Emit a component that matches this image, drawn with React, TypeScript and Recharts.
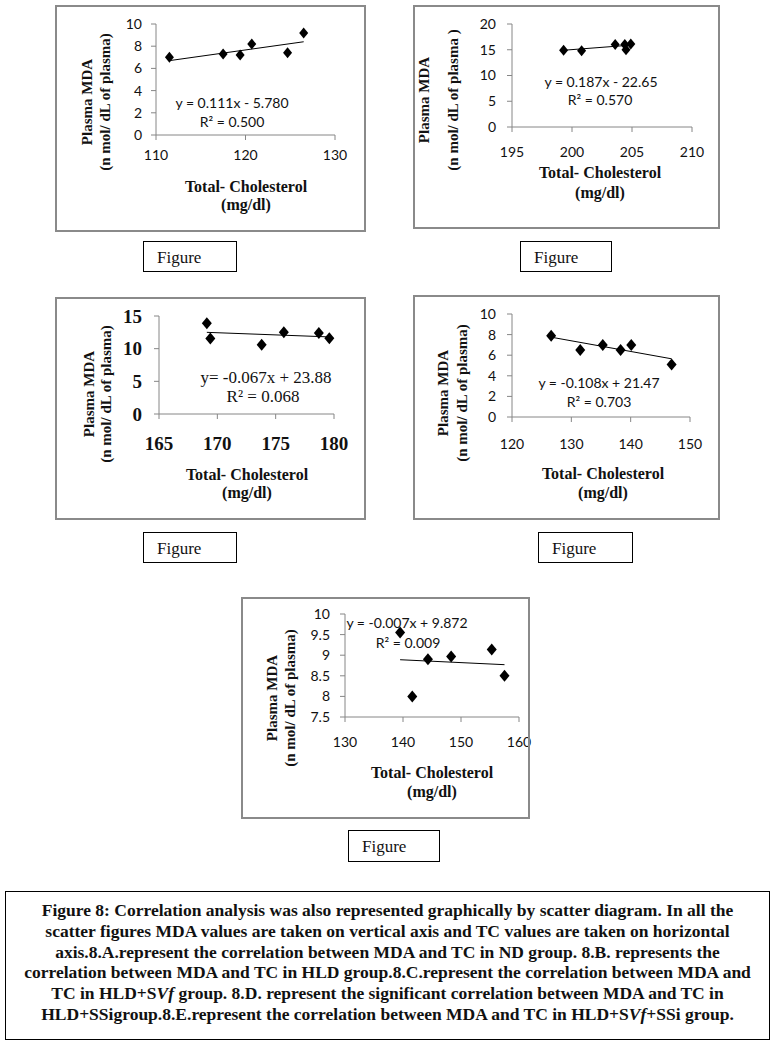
import React from "react";
import { ScatterChart, Scatter, XAxis, YAxis, ReferenceLine } from "recharts";

// 8.A  ND group
const aTc = [111.5, 117.5, 119.4, 120.7, 124.7, 126.5];
const aMda = [7.0, 7.3, 7.2, 8.2, 7.4, 9.2];
const aTrendTc = [111.5, 126.5];
const aTrendMda = [6.7, 8.4];
const aXTicks = [110, 120, 130];
const aYTicks = [0, 2, 4, 6, 8, 10];

// 8.B  HLD group
const bTc = [199.3, 200.8, 203.6, 204.4, 204.5, 204.9];
const bMda = [14.9, 14.8, 16.0, 16.0, 15.0, 16.1];
const bTrendTc = [199.3, 204.9];
const bTrendMda = [14.9, 15.9];
const bXTicks = [195, 200, 205, 210];
const bYTicks = [0, 5, 10, 15, 20];

// 8.C  HLD+SVf group
const cTc = [169.1, 169.4, 173.8, 175.7, 178.7, 179.6];
const cMda = [13.9, 11.55, 10.6, 12.5, 12.4, 11.6];
const cTrendTc = [169.1, 179.6];
const cTrendMda = [12.5, 11.8];
const cXTicks = [165, 170, 175, 180];
const cYTicks = [0, 5, 10, 15];

// 8.D  HLD+SSi group
const dTc = [126.6, 131.5, 135.3, 138.3, 140.1, 146.9];
const dMda = [7.9, 6.5, 7.0, 6.5, 7.0, 5.1];
const dTrendTc = [126.6, 146.9];
const dTrendMda = [7.75, 5.65];
const dXTicks = [120, 130, 140, 150];
const dYTicks = [0, 2, 4, 6, 8, 10];

// 8.E  HLD+SVf+SSi group
const eTc = [139.5, 141.6, 144.3, 148.3, 155.3, 157.5];
const eMda = [9.55, 8.0, 8.9, 8.97, 9.14, 8.5];
const eTrendTc = [139.5, 157.5];
const eTrendMda = [8.89, 8.77];
const eXTicks = [130, 140, 150, 160];
const eYTicks = [7.5, 8, 8.5, 9, 9.5, 10];

const SANS = "Lato, 'Liberation Sans', sans-serif";
const SERIF = "'Liberation Serif', 'Times New Roman', serif";
const AXIS_GREY = "#868686";

const captionLines = [
  "Figure 8: Correlation analysis was also represented graphically by scatter diagram. In all the",
  "scatter figures MDA values are taken on vertical axis and TC values are taken on horizontal",
  "axis.8.A.represent the correlation between MDA and TC in ND group. 8.B. represents the",
  "correlation between MDA and TC in HLD group.8.C.represent the correlation between MDA and",
];

const panels = [
  {
    id: "A",
    box: { l: 55, t: 5, r: 366, b: 232 },
    plot: { l: 156, t: 24, r: 335, b: 135 },
    tc: aTc, mda: aMda, trendTc: aTrendTc, trendMda: aTrendMda,
    xTicks: aXTicks, yTicks: aYTicks,
    tickFont: SANS, tickSize: 14, tickWeight: 400, xGap: 10, yGap: 9,
    eq: ["y = 0.111x - 5.780", "R² = 0.500"], eqFont: SANS, eqSize: 14,
    eqPos: [[232, 103], [232, 122]],
    yTitle: [[87, 102], [105, 102]], yTitle2: "(n mol/ dL of plasma)",
    xTitle: [[246, 187], [246, 205]],
    marker: [4.5, 5.5],
    figBox: { l: 143, t: 241, r: 237, b: 272 },
  },
  {
    id: "B",
    box: { l: 413, t: 5, r: 720, b: 229 },
    plot: { l: 512, t: 24, r: 692, b: 127 },
    tc: bTc, mda: bMda, trendTc: bTrendTc, trendMda: bTrendMda,
    xTicks: bXTicks, yTicks: bYTicks,
    tickFont: SANS, tickSize: 14, tickWeight: 400, xGap: 15, yGap: 11,
    eq: ["y = 0.187x - 22.65", "R² = 0.570"], eqFont: SANS, eqSize: 14,
    eqPos: [[601, 82], [600, 100]],
    yTitle: [[424, 100], [453, 100]], yTitle2: "(n mol/ dL of plasma )",
    xTitle: [[600, 173], [600, 193]],
    marker: [4.5, 5.5],
    figBox: { l: 520, t: 241, r: 612, b: 272 },
  },
  {
    id: "C",
    box: { l: 55, t: 297, r: 366, b: 520 },
    plot: { l: 159, t: 316, r: 334, b: 414 },
    tc: cTc, mda: cMda, trendTc: cTrendTc, trendMda: cTrendMda,
    xTicks: cXTicks, yTicks: cYTicks,
    tickFont: SERIF, tickSize: 19, tickWeight: 700, xGap: 18, yGap: 12,
    eq: ["y= -0.067x + 23.88", "R² = 0.068"], eqFont: SERIF, eqSize: 17,
    eqPos: [[266, 377], [263, 396]],
    yTitle: [[89, 394], [106, 394]], yTitle2: "(n mol/ dL of plasma)",
    xTitle: [[247, 475], [247, 493]],
    marker: [5, 6],
    figBox: { l: 143, t: 532, r: 237, b: 563 },
  },
  {
    id: "D",
    box: { l: 413, t: 295, r: 720, b: 520 },
    plot: { l: 512, t: 314, r: 690, b: 417 },
    tc: dTc, mda: dMda, trendTc: dTrendTc, trendMda: dTrendMda,
    xTicks: dXTicks, yTicks: dYTicks,
    tickFont: SANS, tickSize: 14, tickWeight: 400, xGap: 17, yGap: 11,
    eq: ["y = -0.108x + 21.47", "R² = 0.703"], eqFont: SANS, eqSize: 14,
    eqPos: [[599, 383], [599, 402]],
    yTitle: [[443, 393], [462, 393]], yTitle2: "(n mol/ dL of plasma)",
    xTitle: [[603, 474], [603, 493]],
    marker: [5, 6],
    figBox: { l: 538, t: 532, r: 633, b: 563 },
  },
  {
    id: "E",
    box: { l: 241, t: 597, r: 530, b: 819 },
    plot: { l: 345, t: 614, r: 519, b: 717 },
    tc: eTc, mda: eMda, trendTc: eTrendTc, trendMda: eTrendMda,
    xTicks: eXTicks, yTicks: eYTicks,
    tickFont: SANS, tickSize: 14, tickWeight: 400, xGap: 15, yGap: 10,
    eq: ["y = -0.007x + 9.872", "R² = 0.009"], eqFont: SANS, eqSize: 14,
    eqPos: [[407, 623], [408, 643]],
    yTitle: [[272, 698], [290, 698]], yTitle2: "(n mol/ dL of plasma)",
    xTitle: [[432, 773], [432, 792]],
    marker: [5, 6],
    figBox: { l: 348, t: 830, r: 440, b: 862 },
  },
];

const centered = (x: number, y: number): React.CSSProperties => ({
  position: "absolute",
  left: x,
  top: y,
  transform: "translate(-50%, -50%)",
  whiteSpace: "nowrap",
  lineHeight: 1,
});

function Diamond(props: any) {
  const { cx, cy, hw, hh } = props;
  if (cx == null || cy == null) return <g />;
  return (
    <polygon
      points={`${cx},${cy - hh} ${cx + hw},${cy} ${cx},${cy + hh} ${cx - hw},${cy}`}
      fill="#000"
    />
  );
}

function Panel({ p }: { p: any }) {
  const w = p.box.r - p.box.l;
  const h = p.box.b - p.box.t;
  const yW = 50;
  const xH = 40;
  const extra = 24; // room for the last x tick label past the frame
  const margin = {
    left: p.plot.l - p.box.l - yW,
    top: p.plot.t - p.box.t,
    right: p.box.r - p.plot.r + extra,
    bottom: p.box.b - p.plot.b - xH,
  };
  const data = p.tc.map((x: number, i: number) => ({ x, y: p.mda[i] }));
  const tick = {
    fill: "#111",
    fontSize: p.tickSize,
    fontFamily: p.tickFont,
    fontWeight: p.tickWeight,
  };
  const titleStyle: React.CSSProperties = {
    fontFamily: SERIF,
    fontWeight: 700,
    color: "#111",
  };
  const rot = "translate(-50%, -50%) rotate(-90deg)";

  return (
    <>
      <div style={{ position: "absolute", left: p.box.l, top: p.box.t }}>
        <ScatterChart width={w + extra} height={h} margin={margin}>
          <XAxis
            type="number"
            dataKey="x"
            domain={[p.xTicks[0], p.xTicks[p.xTicks.length - 1]]}
            ticks={p.xTicks}
            interval={0}
            height={xH}
            stroke={AXIS_GREY}
            tickSize={5}
            tickMargin={p.xGap}
            tick={tick}
          />
          <YAxis
            type="number"
            dataKey="y"
            domain={[p.yTicks[0], p.yTicks[p.yTicks.length - 1]]}
            ticks={p.yTicks}
            interval={0}
            width={yW}
            stroke={AXIS_GREY}
            tickSize={5}
            tickMargin={p.yGap}
            tick={tick}
          />
          <ReferenceLine
            segment={[
              { x: p.trendTc[0], y: p.trendMda[0] },
              { x: p.trendTc[1], y: p.trendMda[1] },
            ]}
            stroke="#000"
            strokeWidth={1}
          />
          <Scatter
            data={data}
            fill="#000"
            isAnimationActive={false}
            shape={(sp: any) => <Diamond {...sp} hw={p.marker[0]} hh={p.marker[1]} />}
          />
        </ScatterChart>
      </div>
      <div
        style={{
          position: "absolute",
          left: p.box.l,
          top: p.box.t,
          width: w,
          height: h,
          border: "2px solid #8a8a8a",
          boxSizing: "border-box",
          pointerEvents: "none",
        }}
      />
      {p.eq.map((s: string, i: number) => (
        <div
          key={s}
          style={{
            ...centered(p.eqPos[i][0], p.eqPos[i][1]),
            fontFamily: p.eqFont,
            fontSize: p.eqSize,
            color: "#111",
          }}
        >
          {s}
        </div>
      ))}
      <div style={{ ...centered(p.yTitle[0][0], p.yTitle[0][1]), ...titleStyle, fontSize: 15, transform: rot }}>
        Plasma MDA
      </div>
      <div style={{ ...centered(p.yTitle[1][0], p.yTitle[1][1]), ...titleStyle, fontSize: 15, transform: rot }}>
        {p.yTitle2}
      </div>
      <div style={{ ...centered(p.xTitle[0][0], p.xTitle[0][1]), ...titleStyle, fontSize: 16 }}>Total- Cholesterol</div>
      <div style={{ ...centered(p.xTitle[1][0], p.xTitle[1][1]), ...titleStyle, fontSize: 16 }}>(mg/dl)</div>
      <div
        style={{
          position: "absolute",
          left: p.figBox.l,
          top: p.figBox.t,
          width: p.figBox.r - p.figBox.l,
          height: p.figBox.b - p.figBox.t,
          border: "1px solid #000",
          boxSizing: "border-box",
          fontFamily: SERIF,
          fontSize: 17,
          paddingLeft: 13,
          paddingTop: 7,
          lineHeight: 1,
          color: "#111",
        }}
      >
        Figure
      </div>
    </>
  );
}

export default function App() {
  return (
    <div
      style={{
        position: "absolute",
        left: 0,
        top: 0,
        width: 776,
        height: 1047,
        background: "#fff",
        overflow: "hidden",
      }}
    >
      {panels.map((p) => (
        <Panel key={p.id} p={p} />
      ))}
      <div
        style={{
          position: "absolute",
          left: 5,
          top: 891,
          width: 765,
          height: 149,
          border: "1px solid #000",
          boxSizing: "border-box",
          paddingTop: 8,
          fontFamily: SERIF,
          fontWeight: 700,
          fontSize: 17.5,
          lineHeight: "20.8px",
          textAlign: "center",
          whiteSpace: "nowrap",
          color: "#111",
        }}
      >
        {captionLines.map((l) => (
          <div key={l}>{l}</div>
        ))}
        <div>
          TC in HLD+S<i>Vf</i> group. 8.D. represent the significant correlation between MDA and TC in
        </div>
        <div>
          HLD+SSigroup.8.E.represent the correlation between MDA and TC in HLD+S<i>Vf</i>+SSi group.
        </div>
      </div>
    </div>
  );
}
